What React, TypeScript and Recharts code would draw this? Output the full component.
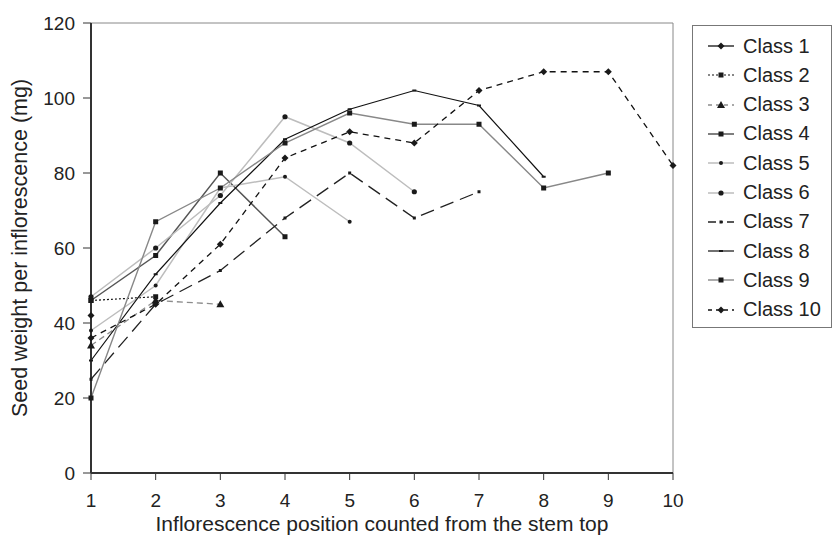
import React from 'react';
import { LineChart, Line, XAxis, YAxis, ReferenceLine } from 'recharts';

const positions = [1, 2, 3, 4, 5, 6, 7, 8, 9, 10];
const yTicks = [0, 20, 40, 60, 80, 100, 120];
const class1 = [42];
const class2 = [46, 47];
const class3 = [34, 46, 45];
const class4 = [46, 58, 80, 63];
const class5 = [38, 50, 76, 79, 67];
const class6 = [47, 60, 74, 95, 88, 75];
const class7 = [25, 45, 54, 68, 80, 68, 75];
const class8 = [30, 53, 72, 89, 97, 102, 98, 79];
const class9 = [20, 67, 76, 88, 96, 93, 93, 76, 80];
const class10 = [36, 45, 61, 84, 91, 88, 102, 107, 107, 82];
const seriesNames = ['Class 1', 'Class 2', 'Class 3', 'Class 4', 'Class 5', 'Class 6', 'Class 7', 'Class 8', 'Class 9', 'Class 10'];
const seriesValues = [class1, class2, class3, class4, class5, class6, class7, class8, class9, class10];

type Shape = 'diamond' | 'square' | 'triangle' | 'dot' | 'circle' | 'tiny' | 'dash';
type Style = { color: string; dash?: string; shape: Shape; width: number; legendDash?: string };

const styles: Style[] = [
  { color: '#111', shape: 'diamond', width: 1.3 },
  { color: '#111', dash: '2 2', shape: 'square', width: 1.2, legendDash: '2 2' },
  { color: '#8c8c8c', dash: '6 4', shape: 'triangle', width: 1.3, legendDash: '4 4' },
  { color: '#555', shape: 'square', width: 1.5 },
  { color: '#bdbdbd', shape: 'dot', width: 1.5 },
  { color: '#bdbdbd', shape: 'circle', width: 1.5 },
  { color: '#222', dash: '14 7', shape: 'tiny', width: 1.3, legendDash: '8 4 3 4' },
  { color: '#111', shape: 'dash', width: 1.2 },
  { color: '#888', shape: 'square', width: 1.4 },
  { color: '#111', dash: '6 5', shape: 'diamond', width: 1.3, legendDash: '4 4' },
];

const table = positions.map((x, i) => {
  const row: Record<string, number | undefined> = { x };
  seriesValues.forEach((vals, s) => {
    row['c' + (s + 1)] = vals[i];
  });
  return row;
});

const FONT = '"Liberation Sans", Arial, sans-serif';
const TICK_FONT = 19;
const TITLE_FONT = 21;
const LEGEND_FONT = 20;

function Marker({ shape, cx, cy }: { shape: Shape; cx: number; cy: number }) {
  const fill = '#1a1a1a';
  switch (shape) {
    case 'diamond':
      return <polygon points={`${cx},${cy - 3.5} ${cx + 3.5},${cy} ${cx},${cy + 3.5} ${cx - 3.5},${cy}`} fill={fill} />;
    case 'square':
      return <rect x={cx - 2.5} y={cy - 2.5} width={5} height={5} fill={fill} />;
    case 'triangle':
      return <polygon points={`${cx},${cy - 4} ${cx + 4},${cy + 3} ${cx - 4},${cy + 3}`} fill={fill} />;
    case 'dot':
      return <circle cx={cx} cy={cy} r={2} fill={fill} />;
    case 'circle':
      return <circle cx={cx} cy={cy} r={2.6} fill={fill} />;
    case 'tiny':
      return <rect x={cx - 1.5} y={cy - 1.5} width={3} height={3} fill={fill} />;
    case 'dash':
      return <rect x={cx - 2} y={cy - 1} width={4} height={2} fill={fill} />;
    default:
      return null;
  }
}

const makeDot = (shape: Shape) => (props: any) => {
  const { cx, cy, index } = props;
  if (cx == null || cy == null || props.value == null) return <g key={'e' + index} />;
  return (
    <g key={'d' + index}>
      <Marker shape={shape} cx={cx} cy={cy} />
    </g>
  );
};

const renderYLabel = () => (
  <text
    x={20}
    y={248}
    transform="rotate(-90 20 248)"
    textAnchor="middle"
    dominantBaseline="central"
    fontFamily={FONT}
    fontSize={21.5}
    fill="#222"
  >
    Seed weight per inflorescence (mg)
  </text>
);

const renderXLabel = () => (
  <text x={382} y={531} textAnchor="middle" fontFamily={FONT} fontSize={TITLE_FONT} fill="#222">
    Inflorescence position counted from the stem top
  </text>
);

function LegendBox() {
  return (
    <div
      style={{
        position: 'absolute',
        left: 692,
        top: 25,
        width: 140,
        height: 303,
        border: '1px solid #777',
        boxSizing: 'border-box',
        background: '#fff',
      }}
    >
      {seriesNames.map((name, i) => {
        const st = styles[i];
        return (
          <div
            key={name}
            style={{
              position: 'absolute',
              left: 14,
              top: 20 + i * 29.3 - 12,
              height: 24,
              display: 'flex',
              alignItems: 'center',
              fontFamily: FONT,
              fontSize: LEGEND_FONT,
              color: '#222',
              whiteSpace: 'nowrap',
            }}
          >
            <svg width={28} height={12} style={{ display: 'block', marginRight: 8 }}>
              <line
                x1={1}
                y1={6}
                x2={27}
                y2={6}
                stroke={st.color}
                strokeWidth={st.width}
                strokeDasharray={st.legendDash}
              />
              <Marker shape={st.shape} cx={14} cy={6} />
            </svg>
            <span>{name}</span>
          </div>
        );
      })}
    </div>
  );
}

export default function App() {
  return (
    <div style={{ position: 'absolute', left: 0, top: 0, width: 836, height: 538, background: '#fff', overflow: 'hidden' }}>
      <LineChart
        width={836}
        height={538}
        data={table}
        margin={{ top: 23, right: 163, bottom: 0, left: 0 }}
      >
        <XAxis
          dataKey="x"
          type="number"
          domain={[1, 10]}
          ticks={positions}
          interval={0}
          height={65}
          axisLine={{ stroke: '#333', strokeWidth: 2 }}
          tickLine={{ stroke: '#333' }}
          tickSize={7}
          tickMargin={14}
          tick={{ fontFamily: FONT, fontSize: TICK_FONT, fill: '#222' }}
          label={renderXLabel}
        />
        <YAxis
          type="number"
          domain={[0, 120]}
          ticks={yTicks}
          interval={0}
          width={91}
          axisLine={{ stroke: '#333', strokeWidth: 2 }}
          tickLine={{ stroke: '#333' }}
          tickSize={8}
          tickMargin={8}
          tick={{ fontFamily: FONT, fontSize: TICK_FONT, fill: '#222' }}
          label={renderYLabel}
        />
        <ReferenceLine y={120} stroke="#888" strokeWidth={1} />
        <ReferenceLine x={10} stroke="#888" strokeWidth={1} />
        {seriesNames.map((name, i) => (
          <Line
            key={name}
            name={name}
            dataKey={'c' + (i + 1)}
            type="linear"
            stroke={styles[i].color}
            strokeWidth={styles[i].width}
            strokeDasharray={styles[i].dash}
            dot={makeDot(styles[i].shape)}
            activeDot={false}
            isAnimationActive={false}
          />
        ))}
      </LineChart>
      <LegendBox />
    </div>
  );
}
